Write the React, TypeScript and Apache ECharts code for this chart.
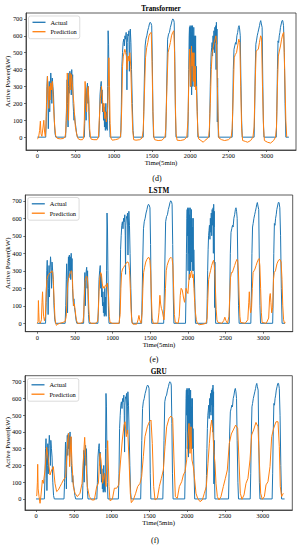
import React, { useEffect, useRef } from "react";
import * as echarts from "echarts";

const X_TICKS = [0, 500, 1000, 1500, 2000, 2500, 3000];
const Y_TICKS = [0, 100, 200, 300, 400, 500, 600, 700];
const TITLES = ["Transformer", "LSTM", "GRU"];
const CAPTIONS = ["(d)", "(e)", "(f)"];
const SERIES_NAMES = ["Actual", "Prediction"];
const X_NAME = "Time(5min)";
const Y_NAME = "Active Power(kW)";

const actual: number[][] = [
  [0, 0], [100, 0], [110, 0],
  [118, 120], [126, 300], [132, 360], [138, 250], [144, 50], [150, 200], [156, 330], [162, 150], [168, 300], [176, 380], [184, 320], [190, 200], [196, 350], [204, 300], [212, 250], [222, 100], [232, 20], [242, 0],
  [370, 0], [378, 100], [385, 250], [390, 340], [396, 200], [402, 60], [408, 300], [414, 380], [420, 260], [426, 390], [432, 300], [438, 380], [444, 250], [450, 400], [456, 300], [462, 370], [468, 200], [474, 150], [480, 100], [486, 140], [494, 90], [504, 60], [514, 20], [525, 0],
  [615, 0], [620, 80], [626, 200], [632, 290], [638, 100], [644, 250], [650, 300], [656, 320], [662, 200], [668, 300], [674, 150], [680, 50], [688, 0],
  [805, 0], [812, 100], [820, 250], [828, 300], [836, 330], [842, 200], [848, 280], [854, 150], [860, 200], [866, 100], [872, 180], [878, 60], [884, 120], [890, 40], [896, 200], [902, 50], [908, 150], [914, 40], [920, 300], [926, 630], [932, 550], [938, 300], [944, 100], [952, 0],
  [1090, 0], [1098, 150], [1106, 420], [1114, 500], [1122, 560], [1130, 580], [1138, 540], [1146, 600], [1154, 580], [1162, 620], [1168, 500], [1172, 280], [1176, 560], [1184, 610], [1192, 600], [1198, 630], [1204, 390], [1210, 550], [1216, 640], [1224, 560], [1232, 400], [1242, 200], [1252, 40], [1260, 0],
  [1385, 0], [1392, 150], [1400, 350], [1410, 540], [1420, 580], [1432, 600], [1444, 630], [1456, 650], [1466, 670], [1476, 680], [1486, 675], [1496, 660], [1504, 450], [1512, 150], [1520, 0],
  [1678, 0], [1686, 150], [1694, 350], [1704, 580], [1716, 610], [1728, 620], [1740, 650], [1752, 670], [1762, 690], [1772, 700], [1782, 695], [1790, 680], [1798, 450], [1806, 150], [1814, 0],
  [1968, 0], [1974, 150], [1980, 400], [1986, 600], [1990, 650], [1994, 500], [1998, 660], [2002, 300], [2006, 650], [2010, 400], [2014, 660], [2018, 250], [2022, 620], [2026, 420], [2030, 660], [2034, 300], [2038, 600], [2042, 450], [2046, 650], [2050, 350], [2054, 600], [2058, 300], [2062, 550], [2066, 420], [2070, 600], [2074, 300], [2078, 420], [2084, 300], [2092, 150], [2100, 0],
  [2250, 0], [2256, 140], [2262, 300], [2268, 420], [2274, 500], [2280, 530], [2286, 560], [2292, 480], [2298, 600], [2304, 520], [2310, 630], [2316, 500], [2322, 650], [2328, 560], [2334, 660], [2338, 400], [2342, 680], [2346, 550], [2350, 640], [2354, 90], [2358, 350], [2362, 150], [2368, 0],
  [2548, 0], [2555, 150], [2563, 400], [2572, 520], [2582, 540], [2592, 560], [2600, 550], [2610, 600], [2620, 620], [2630, 650], [2638, 660], [2646, 640], [2654, 600], [2662, 350], [2672, 100], [2680, 0],
  [2835, 0], [2842, 150], [2850, 400], [2858, 550], [2866, 570], [2876, 600], [2886, 620], [2896, 640], [2906, 660], [2914, 680], [2922, 690], [2930, 670], [2940, 650], [2948, 350], [2956, 100], [2964, 0],
  [3125, 0], [3132, 150], [3140, 400], [3148, 570], [3156, 560], [3164, 600], [3172, 620], [3180, 650], [3190, 670], [3200, 690], [3210, 690], [3220, 660], [3230, 500], [3240, 200], [3250, 0], [3290, 0],
];

const predTransformer: number[][] = [
  [0, -10], [15, -5], [30, 40], [40, 95], [48, 20], [60, 5], [75, 60], [85, 100], [95, 30], [105, 5],
  [112, 50], [120, 200], [133, 360], [143, 250], [150, 170], [158, 300], [166, 220], [176, 320], [186, 280], [196, 330], [206, 250], [216, 150], [228, 60], [240, 10], [255, -5],
  [270, -8], [300, -10], [340, -8], [362, 0],
  [372, 30], [382, 150], [392, 380], [400, 250], [408, 100], [418, 300], [428, 380], [438, 280], [448, 370], [458, 320], [468, 250], [478, 200], [488, 120], [498, 60], [510, 30], [522, 5], [535, -10],
  [560, -15], [590, -15], [605, -5],
  [615, 100], [625, 330], [635, 250], [645, 150], [655, 280], [665, 300], [675, 200], [685, 50], [695, 0], [705, -12],
  [740, -15], [780, -15], [800, 0],
  [810, 100], [825, 230], [840, 300], [852, 230], [862, 150], [872, 200], [882, 110], [892, 150], [902, 90], [912, 120], [920, 180], [928, 300], [936, 470], [944, 300], [952, 80], [962, -5],
  [980, -18], [1020, -15], [1060, -10], [1085, 0],
  [1095, 40], [1105, 200], [1115, 420], [1125, 480], [1135, 500], [1145, 520], [1155, 500], [1165, 480], [1172, 400], [1180, 450], [1190, 480], [1200, 450], [1210, 500], [1222, 420], [1235, 200], [1248, 40], [1260, -15],
  [1290, -18], [1340, -15], [1370, -5],
  [1385, 40], [1400, 250], [1415, 470], [1430, 530], [1445, 560], [1460, 600], [1475, 615], [1490, 620], [1500, 450], [1512, 150], [1524, 0], [1535, -15],
  [1580, -20], [1630, -18], [1670, 0],
  [1680, 50], [1695, 300], [1710, 500], [1725, 530], [1740, 560], [1755, 600], [1770, 620], [1785, 630], [1795, 500], [1805, 200], [1815, 20], [1828, -18],
  [1870, -20], [1920, -15], [1955, 0],
  [1970, 100], [1982, 350], [1992, 520], [2000, 400], [2008, 300], [2016, 540], [2024, 420], [2032, 500], [2040, 330], [2048, 500], [2056, 300], [2064, 420], [2072, 280], [2080, 300], [2090, 150], [2100, 30], [2110, -10],
  [2140, -20], [2170, -30], [2190, -20], [2220, -10], [2240, 0],
  [2250, 50], [2262, 200], [2275, 400], [2287, 500], [2300, 530], [2312, 560], [2325, 580], [2335, 600], [2345, 550], [2355, 300], [2365, 80], [2375, -5],
  [2410, -15], [2450, -20], [2500, -15], [2535, 0],
  [2548, 50], [2562, 250], [2575, 470], [2590, 490], [2605, 500], [2620, 540], [2635, 580], [2648, 560], [2660, 300], [2672, 50], [2685, -20],
  [2720, -25], [2750, -30], [2790, -20], [2820, 0],
  [2835, 60], [2848, 300], [2862, 510], [2875, 515], [2890, 520], [2905, 560], [2920, 600], [2932, 590], [2945, 300], [2958, 60], [2970, -20],
  [3010, -30], [3050, -35], [3090, -20], [3115, 0],
  [3128, 60], [3140, 300], [3152, 480], [3165, 510], [3180, 540], [3195, 580], [3210, 610], [3222, 620], [3235, 400], [3250, 100], [3262, 0],
];

const predLSTM: number[][] = [
  [0, 0], [10, 10], [15, 130], [20, 60], [25, 10], [40, 0], [55, 20], [63, 120], [70, 180], [76, 110], [84, 40], [95, 15], [108, 40],
  [118, 180], [128, 250], [140, 270], [155, 280], [170, 290], [185, 290], [195, 300], [205, 290], [215, 220], [225, 120], [235, 30], [245, 0], [255, -12], [270, -5], [300, 0], [340, 5], [370, 10],
  [385, 40], [395, 150], [405, 230], [418, 260], [430, 280], [442, 290], [452, 300], [460, 290], [468, 240], [476, 150], [484, 100], [492, 110], [502, 80], [512, 40], [522, 15], [535, 0], [570, 0], [605, 5],
  [615, 40], [625, 150], [635, 240], [645, 260], [655, 270], [665, 260], [675, 200], [685, 80], [695, 10], [710, 0], [770, 0], [800, 10],
  [810, 60], [820, 180], [830, 260], [842, 290], [852, 280], [862, 230], [872, 200], [882, 210], [892, 200], [902, 215], [912, 220], [922, 210], [930, 230], [938, 230], [947, 150], [956, 40], [966, 5], [1000, 0], [1085, 0],
  [1100, 50], [1110, 200], [1120, 290], [1132, 310], [1147, 320], [1162, 330], [1177, 340], [1192, 350], [1205, 350], [1215, 340], [1225, 300], [1235, 200], [1245, 80], [1255, 10], [1270, -5], [1320, -5], [1338, 20], [1350, 45], [1360, 20], [1378, 0],
  [1392, 60], [1402, 200], [1412, 290], [1425, 320], [1440, 350], [1455, 365], [1470, 375], [1485, 375], [1495, 360], [1505, 300], [1515, 150], [1525, 30], [1540, 0], [1600, 0], [1615, 60], [1628, 160], [1638, 110], [1648, 85], [1660, 70], [1672, 40], [1682, 20],
  [1692, 80], [1702, 200], [1712, 300], [1724, 330], [1738, 350], [1752, 365], [1766, 375], [1780, 375], [1790, 370], [1800, 330], [1810, 200], [1820, 50], [1832, 5], [1870, 0],
  [1885, 40], [1898, 160], [1910, 200], [1925, 190], [1940, 150], [1955, 120], [1965, 150], [1975, 200], [1990, 180], [2000, 170], [2010, 230], [2020, 280], [2030, 260], [2040, 290], [2050, 300], [2060, 260], [2070, 280], [2080, 200], [2090, 120], [2100, 60], [2112, 20], [2125, 0], [2150, -8], [2200, -5], [2240, 0],
  [2255, 30], [2265, 150], [2275, 250], [2288, 280], [2300, 300], [2315, 330], [2330, 350], [2340, 360], [2348, 340], [2356, 300], [2365, 200], [2375, 80], [2385, 20], [2400, 5], [2450, 0], [2475, 15], [2490, 35], [2505, 15], [2525, 0],
  [2545, 40], [2555, 150], [2565, 260], [2578, 290], [2590, 290], [2605, 310], [2620, 330], [2635, 350], [2650, 365], [2660, 360], [2670, 300], [2680, 150], [2690, 40], [2700, 5], [2760, 0], [2795, 20], [2808, 120], [2815, 180], [2823, 100], [2833, 60],
  [2845, 90], [2855, 200], [2865, 290], [2878, 300], [2890, 310], [2905, 330], [2920, 350], [2935, 365], [2945, 370], [2955, 330], [2965, 200], [2975, 60], [2985, 5], [3040, 0], [3072, 30], [3085, 150], [3093, 170], [3102, 120], [3112, 60],
  [3125, 90], [3136, 250], [3146, 290], [3162, 300], [3182, 340], [3202, 360], [3222, 365], [3237, 350], [3249, 250], [3259, 100], [3270, 20], [3282, 0], [3295, 5],
];

const predGRU: number[][] = [
  [0, 20], [10, 20], [18, 100], [22, 207], [28, 60], [40, 14], [53, -26], [66, 24], [84, 113], [97, 93], [119, 173], [141, 308], [163, 233], [185, 143], [207, 173], [229, 193], [251, 93], [273, 44], [296, 54], [318, 74], [340, 93], [362, 113], [393, 133],
  [419, 352], [432, 392], [445, 193], [463, 372], [476, 213], [494, 74], [516, 34], [547, 14], [582, 34], [609, 93],
  [631, 272], [644, 368], [657, 252], [679, 74], [706, 14], [737, -6], [772, -6], [803, 74], [825, 93],
  [847, 272], [860, 233], [882, 93], [904, 153], [926, 74], [948, 348], [966, 74], [979, -10], [1010, -2], [1037, 64], [1067, 64], [1094, 84],
  [1120, 233], [1142, 352], [1165, 441], [1178, 461], [1195, 372], [1213, 412], [1231, 233], [1248, 34], [1261, -22], [1288, -6], [1319, 34], [1345, 74], [1376, 93], [1398, 133],
  [1420, 252], [1442, 372], [1473, 431], [1500, 461], [1522, 471], [1539, 332], [1557, 74], [1575, -6], [1606, 4], [1632, 74], [1659, 123], [1685, 173],
  [1707, 312], [1729, 431], [1760, 481], [1786, 495], [1809, 481], [1826, 233], [1844, 14], [1870, 4], [1897, 74], [1928, 103], [1950, 143], [1972, 163],
  [1994, 233], [2011, 372], [2025, 451], [2038, 272], [2051, 431], [2064, 233], [2082, 193], [2100, 113], [2117, 34], [2139, 4], [2170, -16], [2201, -6], [2228, 34], [2254, 74],
  [2276, 213], [2294, 332], [2311, 431], [2325, 471], [2342, 392], [2356, 272], [2369, 213], [2382, 93], [2400, 14], [2422, -6], [2448, 14], [2479, 74], [2506, 123], [2532, 173],
  [2558, 332], [2585, 388], [2611, 412], [2642, 441], [2669, 421], [2686, 233], [2704, 34], [2726, -2], [2753, 24], [2779, 93], [2805, 123],
  [2832, 233], [2854, 382], [2880, 412], [2911, 457], [2938, 431], [2955, 233], [2973, 34], [2995, -2], [3022, 14], [3044, 84], [3070, 103], [3097, 193],
  [3119, 372], [3145, 421], [3176, 461], [3203, 461], [3220, 312], [3233, 74], [3251, 14], [3273, 34],
];

const PREDICTIONS = [predTransformer, predLSTM, predGRU];

const FONT = '"Liberation Serif", "Times New Roman", serif';
const BLUE = "#1f77b4";
const ORANGE = "#ff7f0e";

const PANELS = [
  { left: 26, top: 13, width: 270, height: 137, xmin: -148, xmax: 3383, ymin: -76, ymax: 735, titleY: 9, capX: 157, capY: 178, legTop: 16 },
  { left: 25.3, top: 195, width: 267.4, height: 136.7, xmin: -159, xmax: 3391, ymin: -48, ymax: 733, titleY: 191, capX: 154, capY: 359, legTop: 197.5 },
  { left: 25, top: 375.7, width: 267.3, height: 134.3, xmin: -146, xmax: 3392, ymin: -66, ymax: 736, titleY: 372, capX: 155, capY: 540, legTop: 378.5 },
];

export default function App() {
  const ref = useRef<HTMLDivElement>(null);
  useEffect(() => {
    if (!ref.current) return;
    const chart = echarts.init(ref.current, null, { renderer: "svg" });
    const grid: any[] = [];
    const xAxis: any[] = [];
    const yAxis: any[] = [];
    const series: any[] = [];
    const legend: any[] = [];
    const graphic: any[] = [];
    PANELS.forEach((p, i) => {
      grid.push({ left: p.left, top: p.top, width: p.width, height: p.height, show: true, borderColor: "#333", borderWidth: 0.8, backgroundColor: "transparent" });
      xAxis.push({
        type: "value", gridIndex: i, min: p.xmin, max: p.xmax,
        name: X_NAME, nameLocation: "middle", nameGap: 9,
        nameTextStyle: { fontFamily: FONT, fontSize: 6.8, color: "#000" },
        axisLine: { show: true, onZero: false, lineStyle: { color: "#333", width: 0.8 } },
        axisTick: { show: true, customValues: X_TICKS, length: 2, lineStyle: { color: "#333", width: 0.7 } },
        axisLabel: { customValues: X_TICKS, formatter: (v: number) => String(v), fontFamily: FONT, fontSize: 6.4, color: "#000", margin: 2.5 },
        splitLine: { show: false },
      });
      yAxis.push({
        type: "value", gridIndex: i, min: p.ymin, max: p.ymax,
        axisLine: { show: true, onZero: false, lineStyle: { color: "#333", width: 0.8 } },
        axisTick: { show: true, customValues: Y_TICKS, length: 2, lineStyle: { color: "#333", width: 0.7 } },
        axisLabel: { show: true, customValues: Y_TICKS, formatter: (v: number) => String(v), fontFamily: FONT, fontSize: 6.4, color: "#000", margin: 3.5 },
        splitLine: { show: false },
      });
      series.push({
        type: "line", name: SERIES_NAMES[0], xAxisIndex: i, yAxisIndex: i, data: actual,
        showSymbol: false, symbol: "none", lineStyle: { color: BLUE, width: 1 }, itemStyle: { color: BLUE }, z: 2,
      });
      series.push({
        type: "line", name: SERIES_NAMES[1], xAxisIndex: i, yAxisIndex: i, data: PREDICTIONS[i],
        showSymbol: false, symbol: "none", lineStyle: { color: ORANGE, width: 1 }, itemStyle: { color: ORANGE }, z: 3,
      });
      legend.push({
        data: SERIES_NAMES, orient: "vertical", left: p.left + 2.5, top: p.legTop,
        icon: "rect", itemWidth: 13, itemHeight: 1.3, itemGap: 1.4,
        padding: [2.3, 3, 3, 4],
        borderColor: "#ccc", borderWidth: 0.7, borderRadius: 2, backgroundColor: "rgba(255,255,255,0.8)",
        textStyle: { fontFamily: FONT, fontSize: 6.4, color: "#000", lineHeight: 8 },
        selectedMode: false,
      });
      graphic.push({
        type: "text", x: p.left + p.width / 2, y: p.titleY,
        style: { text: TITLES[i], align: "center", verticalAlign: "middle", textAlign: "center", textVerticalAlign: "middle", font: `bold 7.2px ${FONT}`, fill: "#000" },
      });
      graphic.push({
        type: "text", x: p.capX, y: p.capY,
        style: { text: CAPTIONS[i], align: "center", verticalAlign: "middle", textAlign: "center", textVerticalAlign: "middle", font: `8px ${FONT}`, fill: "#000" },
      });
      graphic.push({
        type: "text", x: 7, y: p.top + p.height / 2, rotation: Math.PI / 2,
        style: { text: Y_NAME, align: "center", verticalAlign: "middle", textAlign: "center", textVerticalAlign: "middle", font: `6.8px ${FONT}`, fill: "#000" },
      });
    });
    chart.setOption({ animation: false, backgroundColor: "#fff", grid, xAxis, yAxis, series, legend, graphic });
    return () => chart.dispose();
  }, []);
  return <div ref={ref} style={{ position: "absolute", left: 0, top: 0, width: 297, height: 550 }} />;
}
